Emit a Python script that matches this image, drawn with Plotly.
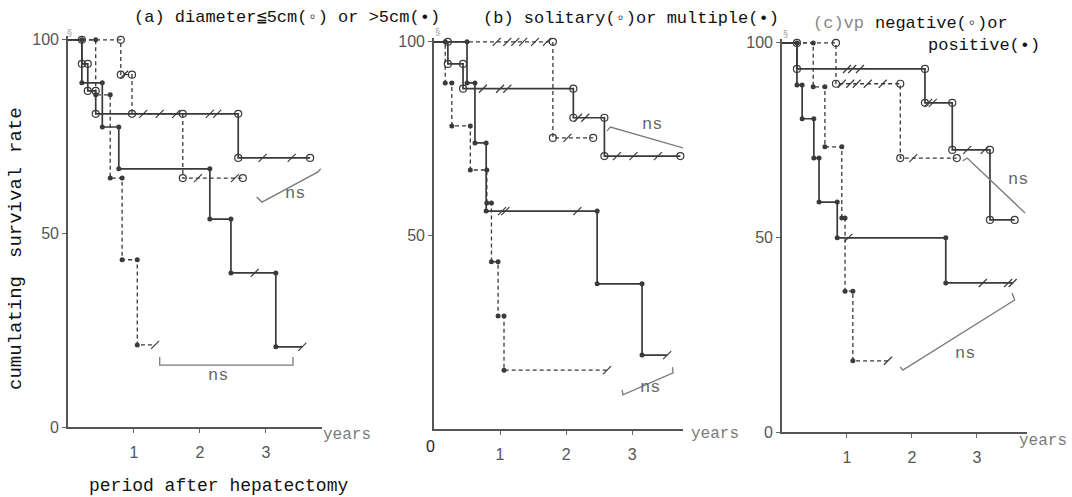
import plotly.graph_objects as go

# ---------------- data ----------------
# panel (a): diameter <=5cm (open) / >5cm (filled); solid and dashed curves
A_OPEN_SOLID_T = [0.21, 0.30, 0.42, 2.58]
A_OPEN_SOLID_S = [93.8, 86.8, 80.9, 69.5]
A_OPEN_SOLID_END = 3.67
A_OPEN_SOLID_CENS = [2.15, 2.26, 2.95, 3.39]

A_FILL_SOLID_T = [0.21, 0.52, 0.77, 2.15, 2.47, 3.15]
A_FILL_SOLID_S = [88.9, 77.5, 66.7, 53.7, 39.8, 20.7]
A_FILL_SOLID_END = 3.55
A_FILL_SOLID_CENS = [2.83]

A_OPEN_DASH_T = [0.80, 0.97, 1.74]
A_OPEN_DASH_S = [91.0, 80.9, 64.3]
A_OPEN_DASH_END = 2.65
A_OPEN_DASH_CENS = [0.85, 1.14, 1.39, 1.64, 1.97, 2.53]

A_FILL_DASH_T = [0.42, 0.64, 0.82, 1.05]
A_FILL_DASH_S = [85.8, 64.3, 43.2, 21.2]
A_FILL_DASH_END = 1.32
A_FILL_DASH_CENS = []

# panel (b): solitary (open) / multiple (filled)
B_OPEN_SOLID_T = [0.21, 0.44, 2.11, 2.58]
B_OPEN_SOLID_S = [94.3, 87.9, 80.4, 70.5]
B_OPEN_SOLID_END = 3.73
B_OPEN_SOLID_CENS = [0.74, 1.00, 1.11, 2.18, 2.29, 2.77, 3.02, 3.39]

B_FILL_SOLID_T = [0.50, 0.62, 0.79, 2.47, 3.15]
B_FILL_SOLID_S = [89.4, 73.9, 56.3, 37.5, 19.1]
B_FILL_SOLID_END = 3.53
B_FILL_SOLID_CENS = [1.03, 1.08, 2.17]

B_OPEN_DASH_T = [1.80]
B_OPEN_DASH_S = [75.2]
B_OPEN_DASH_END = 2.41
B_OPEN_DASH_CENS = [0.95, 1.11, 1.23, 1.35, 1.53, 1.71, 2.02]

B_FILL_DASH_T = [0.17, 0.27, 0.55, 0.80, 0.87, 0.97, 1.06]
B_FILL_DASH_S = [89.4, 78.3, 66.9, 58.4, 43.2, 29.2, 15.2]
B_FILL_DASH_END = 2.62
B_FILL_DASH_CENS = []

# panel (c): vp negative (open) / positive (filled)
C_OPEN_SOLID_T = [0.23, 2.20, 2.62, 3.20]
C_OPEN_SOLID_S = [93.3, 84.6, 72.5, 54.5]
C_OPEN_SOLID_END = 3.58
C_OPEN_SOLID_CENS = [1.00, 1.08, 1.20, 2.25, 2.32, 2.85, 3.12]

C_FILL_SOLID_T = [0.23, 0.31, 0.49, 0.57, 0.85, 2.52]
C_FILL_SOLID_S = [89.2, 80.5, 70.4, 59.1, 49.9, 38.3]
C_FILL_SOLID_END = 3.55
C_FILL_SOLID_CENS = [1.02, 3.09, 3.48]

C_OPEN_DASH_T = [0.83, 1.82]
C_OPEN_DASH_S = [89.5, 70.4]
C_OPEN_DASH_END = 2.69
C_OPEN_DASH_CENS = [0.92, 1.05, 1.15, 1.32, 1.55, 2.02]

C_FILL_DASH_T = [0.48, 0.66, 0.92, 0.97, 1.09]
C_FILL_DASH_S = [88.7, 73.3, 55.0, 36.2, 18.3]
C_FILL_DASH_END = 1.63
C_FILL_DASH_CENS = []

X_TICKS = [1, 2, 3]
Y_TICKS = [0, 50, 100]
TITLE_A = "(a) diameter≦5cm(◦) or >5cm(•)"
TITLE_B = "(b) solitary(◦)or multiple(•)"
TITLE_C1 = "negative(◦)or"
TITLE_C2 = "positive(•)"

# ---------------- styling ----------------
W, H = 1072, 497
INK = "#3a3a3a"
GREY = "#7a7a7a"
MONO = "Liberation Mono, Courier New, monospace"
SANS = "Liberation Sans, Arial, sans-serif"

def px(x):
    return x / W

def py(y):
    return 1 - y / H

fig = go.Figure()

def step_val(T, S, t):
    v = 100.0
    for ti, si in zip(T, S):
        if t >= ti:
            v = si
    return v

def add_curve(ax, T, S, END, CENS, filled, dashed):
    xr, yr = ("x", "y") if ax == 1 else (f"x{ax}", f"y{ax}")
    xs = [0] + T + [END]
    ys = [100] + S + [S[-1]]
    fig.add_trace(go.Scatter(
        x=xs, y=ys, mode="lines", line_shape="hv", xaxis=xr, yaxis=yr,
        line=dict(color=INK, width=1.3 if dashed else 1.7,
                  dash="4px,3px" if dashed else "solid"),
        hoverinfo="skip", showlegend=False, cliponaxis=False))
    vx, vy, prev = [], [], 100.0
    for t, s in zip(T, S):
        vx += [t, t]
        vy += [prev, s]
        prev = s
    if not filled:
        vx.append(END)
        vy.append(S[-1])
    if filled:
        mk = dict(symbol="circle", size=5, color=INK, line=dict(width=0))
    else:
        mk = dict(symbol="circle-open", size=7, color=INK, line=dict(width=1.2, color=INK))
    fig.add_trace(go.Scatter(x=vx, y=vy, mode="markers", marker=mk, xaxis=xr, yaxis=yr,
                             hoverinfo="skip", showlegend=False, cliponaxis=False))
    cx = list(CENS) + ([END] if filled else [])
    if cx:
        cy = [step_val(T, S, c) for c in cx]
        fig.add_trace(go.Scatter(
            x=cx, y=cy, mode="markers", xaxis=xr, yaxis=yr,
            marker=dict(symbol="line-ne", size=8, line=dict(width=1.2, color=INK)),
            hoverinfo="skip", showlegend=False, cliponaxis=False))

add_curve(1, A_OPEN_SOLID_T, A_OPEN_SOLID_S, A_OPEN_SOLID_END, A_OPEN_SOLID_CENS, False, False)
add_curve(1, A_FILL_SOLID_T, A_FILL_SOLID_S, A_FILL_SOLID_END, A_FILL_SOLID_CENS, True, False)
add_curve(1, A_OPEN_DASH_T, A_OPEN_DASH_S, A_OPEN_DASH_END, A_OPEN_DASH_CENS, False, True)
add_curve(1, A_FILL_DASH_T, A_FILL_DASH_S, A_FILL_DASH_END, A_FILL_DASH_CENS, True, True)

add_curve(2, B_OPEN_SOLID_T, B_OPEN_SOLID_S, B_OPEN_SOLID_END, B_OPEN_SOLID_CENS, False, False)
add_curve(2, B_FILL_SOLID_T, B_FILL_SOLID_S, B_FILL_SOLID_END, B_FILL_SOLID_CENS, True, False)
add_curve(2, B_OPEN_DASH_T, B_OPEN_DASH_S, B_OPEN_DASH_END, B_OPEN_DASH_CENS, False, True)
add_curve(2, B_FILL_DASH_T, B_FILL_DASH_S, B_FILL_DASH_END, B_FILL_DASH_CENS, True, True)

add_curve(3, C_OPEN_SOLID_T, C_OPEN_SOLID_S, C_OPEN_SOLID_END, C_OPEN_SOLID_CENS, False, False)
add_curve(3, C_FILL_SOLID_T, C_FILL_SOLID_S, C_FILL_SOLID_END, C_FILL_SOLID_CENS, True, False)
add_curve(3, C_OPEN_DASH_T, C_OPEN_DASH_S, C_OPEN_DASH_END, C_OPEN_DASH_CENS, False, True)
add_curve(3, C_FILL_DASH_T, C_FILL_DASH_S, C_FILL_DASH_END, C_FILL_DASH_CENS, True, True)

# axes: (left px, right px, bottom px, top px, x max)
PANELS = {
    1: (68, 322, 427, 36, 3.85),
    2: (434, 683, 429, 38, 3.77),
    3: (782, 1027, 432, 39, 3.77),
}
lay = {}
for k, (l, r, b, t, xmax) in PANELS.items():
    sx = "xaxis" if k == 1 else f"xaxis{k}"
    sy = "yaxis" if k == 1 else f"yaxis{k}"
    lay[sx] = dict(domain=[px(l), px(r)], range=[0, xmax], anchor="y" if k == 1 else f"y{k}",
                   showline=True, linecolor="#555", linewidth=1.6, showgrid=False, zeroline=False,
                   ticks="outside", ticklen=4, tickcolor="#666", tickvals=X_TICKS, automargin=False,
                   tickfont=dict(family=SANS, size=16, color="#555"), ticklabelstandoff=6)
    lay[sy] = dict(domain=[py(b), py(t)], range=[0, 101], anchor="x" if k == 1 else f"x{k}",
                   showline=True, linecolor="#555", linewidth=1.6, showgrid=False, zeroline=False,
                   ticks="outside", ticklen=4, tickcolor="#666", automargin=False,
                   tickvals=Y_TICKS if k != 2 else Y_TICKS[1:],
                   tickfont=dict(family=SANS, size=16, color="#555"))
fig.update_layout(template="none", **lay)

ann = []
def txt(x, y, s, size=17, color="#111", family=MONO, xanchor="center", angle=0):
    ann.append(dict(x=px(x), y=py(y), xref="paper", yref="paper", text=s, showarrow=False,
                    font=dict(family=family, size=size, color=color), xanchor=xanchor,
                    yanchor="middle", textangle=angle))

txt(287, 17, TITLE_A)
txt(631, 18, TITLE_B)
txt(811, 24, "(c)vp", size=17, color="#888", xanchor="left")
txt(1010, 24, TITLE_C1, xanchor="right")
txt(1042, 46, TITLE_C2, xanchor="right")
txt(347, 435, "years", size=16, color=GREY)
txt(715, 434, "years", size=16, color=GREY)
txt(1069, 441, "years", size=16, color=GREY, xanchor="right")
txt(430, 446, "0", size=16, color="#222", family=SANS)
txt(16, 130, "rate", size=19, angle=-90)
txt(16, 213, "survival", size=19, angle=-90)
txt(16, 333, "cumulating", size=19, angle=-90)
txt(218, 486, "period after hepatectomy", size=18)
for xx, yy in [(69, 33), (437, 32), (785, 34)]:
    txt(xx, yy, "§", size=9, color="#999", family=SANS)

# "ns" markers (brackets) per panel, in each panel's data units
NS = {
    1: [([2.86, 2.94, 3.79, 3.83], [59.4, 58.1, 65.9, 66.7], 3.44, 60.2),
        ([1.39, 1.39, 3.41, 3.41], [18.1, 16.0, 16.0, 18.1], 2.27, 13.4)],
    2: [([2.62, 2.67, 3.77], [77.0, 78.0, 72.6], 3.30, 78.6),
        ([2.85, 2.86, 3.62, 3.61], [10.1, 8.8, 14.5, 16.0], 3.27, 10.6)],
    3: [([2.78, 2.85, 3.74], [69.7, 70.4, 56.3], 3.63, 64.8),
        ([1.82, 1.86, 3.58, 3.54], [16.7, 15.9, 33.9, 35.7], 2.82, 20.3)],
}
for k, items in NS.items():
    xr, yr = ("x", "y") if k == 1 else (f"x{k}", f"y{k}")
    for bx, by, tx, ty in items:
        fig.add_trace(go.Scatter(x=bx, y=by, mode="lines", line=dict(color=GREY, width=1.3),
                                 xaxis=xr, yaxis=yr, hoverinfo="skip", showlegend=False,
                                 cliponaxis=False))
        ann.append(dict(x=tx, y=ty, xref=xr, yref=yr, text="ns", showarrow=False,
                        font=dict(family=MONO, size=17, color="#666")))

fig.update_layout(annotations=ann, width=W, height=H, autosize=False,
                  margin=dict(l=0, r=0, t=0, b=0, pad=0),
                  plot_bgcolor="white", paper_bgcolor="white", showlegend=False)
fig.write_html(
    "out.html",
    config={"displayModeBar": False, "responsive": False},
    post_script=("var d=document.getElementById('{plot_id}');"
                 "d.style.position='fixed';d.style.top='0px';d.style.left='0px';"
                 "document.body.style.margin='0';document.body.style.overflow='hidden';"
                 "document.documentElement.style.overflow='hidden';"))
